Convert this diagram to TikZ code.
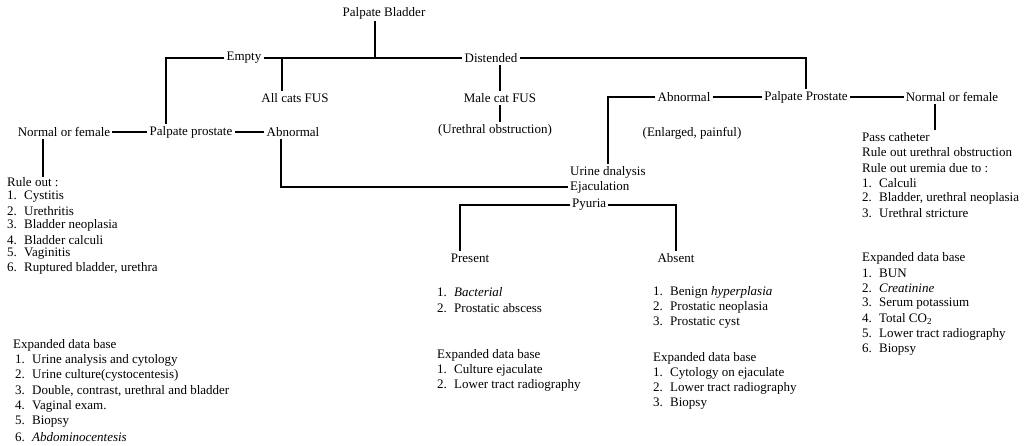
\documentclass[tikz,border=0pt]{standalone}
\usepackage{fontspec}
\setmainfont{Liberation Serif}
\usetikzlibrary{positioning}

\tikzset{
  lbl/.style={draw=none, inner sep=2pt, font=\fontsize{13}{15}\selectfont},
  item/.style={lbl, anchor=west, inner sep=0pt},
  conn/.style={line width=1.3pt},
}
\newcommand{\listnum}[2]{\makebox[17pt][l]{#1}#2}
\def\lsep{15.3}

\begin{document}
\begin{tikzpicture}[x=1pt, y=-1pt]
  \useasboundingbox (0,0) rectangle (1029,446);

  % top rows
  \node[lbl] (bladder) at (384,13) {Palpate Bladder};
  \node[lbl] (empty) at (244,58) {Empty};
  \node[lbl] (dist) at (491,58) {Distended};
  \node[lbl] (allcats) at (295,98) {All cats FUS};
  \node[lbl] (male) at (500,98) {Male cat FUS};
  \node[lbl] (uo) at (495,130) {(Urethral obstruction)};

  \node[lbl] (nfl) at (64,132) {Normal or female};
  \node[lbl] (ppl) at (191,132) {Palpate prostate};
  \node[lbl] (abl) at (293,132) {Abnormal};

  \node[lbl] (abr) at (684,97) {Abnormal};
  \node[lbl] (ppr) at (806,97) {Palpate Prostate};
  \node[lbl] (nfr) at (952,97) {Normal or female};
  \node[lbl] (enl) at (692,133) {(Enlarged, painful)};

  \node[item] (urine) at (570,172) {Urine dnalysis};
  \node[item] (ejac) at (570,187) {Ejaculation};
  \node[item, inner sep=2pt] (pyu) at (570,205) {Pyuria};
  \node[lbl] (present) at (470,258) {Present};
  \node[lbl] (absent) at (676,258) {Absent};

  % left lists
  \node[item] (rulehead) at (7,182) {Rule out :};
  \foreach \t [count=\i] in {Cystitis, Urethritis, Bladder neoplasia, Bladder calculi,
      Vaginitis, {Ruptured bladder, urethra}}{
    \node[item] (rule\i) at (7,182+\i*14.4) {\listnum{\i.}{\t}};
  }
  \node[item] (exlhead) at (13,345) {Expanded data base};
  \foreach \t [count=\i] in {Urine analysis and cytology, Urine culture(cystocentesis),
      {Double, contrast, urethral and bladder}, Vaginal exam., Biopsy,
      \textit{Abdominocentesis}}{
    \node[item] (exl\i) at (15,345+\i*\lsep) {\listnum{\i.}{\t}};
  }

  % middle lists
  \foreach \t [count=\i] in {\textit{Bacterial}, Prostatic abscess}{
    \node[item] (pres\i) at (437,277+\i*\lsep) {\listnum{\i.}{\t}};
  }
  \node[item] (exphead) at (437,355) {Expanded data base};
  \foreach \t [count=\i] in {Culture ejaculate, Lower tract radiography}{
    \node[item] (exp\i) at (437,355+\i*\lsep) {\listnum{\i.}{\t}};
  }
  \foreach \t [count=\i] in {Benign \textit{hyperplasia}, Prostatic neoplasia, Prostatic cyst}{
    \node[item] (abs\i) at (653,277+\i*\lsep) {\listnum{\i.}{\t}};
  }
  \node[item] (exahead) at (653,358) {Expanded data base};
  \foreach \t [count=\i] in {Cytology on ejaculate, Lower tract radiography, Biopsy}{
    \node[item] (exa\i) at (653,358+\i*\lsep) {\listnum{\i.}{\t}};
  }

  % right column
  \node[item] (pass) at (862,137) {Pass catheter};
  \node[item] (rurethral) at (862,137+\lsep) {Rule out urethral obstruction};
  \node[item] (ruremia) at (862,137+2*\lsep) {Rule out uremia due to :};
  \foreach \t [count=\i] in {Calculi, {Bladder, urethral neoplasia}, Urethral stricture}{
    \node[item] (rur\i) at (862,137+2*\lsep+\i*\lsep) {\listnum{\i.}{\t}};
  }
  \node[item] (exrhead) at (862,258) {Expanded data base};
  \foreach \t [count=\i] in {BUN, \textit{Creatinine}, Serum potassium, Total CO\textsubscript{2},
      Lower tract radiography, Biopsy}{
    \node[item] (exr\i) at (862,258+\i*\lsep) {\listnum{\i.}{\t}};
  }

  % connectors
  \draw[conn] ([xshift=-9pt]bladder.south) -- ([xshift=-9pt]bladder.south |- empty.east);
  \draw[conn] ([xshift=-25pt]ppl.north) |- (empty.west);
  \draw[conn] (empty.east) -- (dist.west);
  \draw[conn] ([xshift=-13pt]allcats.north) -- ([xshift=-13pt]allcats.north |- empty.east);
  \draw[conn] (dist.east) -| (ppr.north);
  \draw[conn] (male.north) -- (male.north |- dist.south);
  \draw[conn] (male.south) -- (male.south |- uo.north);

  \draw[conn] (nfl.east) -- (ppl.west);
  \draw[conn] (ppl.east) -- (abl.west);
  \draw[conn] ([xshift=-21pt]nfl.south) -- ([xshift=-21pt]nfl.south |- rulehead.north);
  \draw[conn] ([xshift=-12pt]abl.south) |- ([xshift=-2pt]ejac.west);

  \draw[conn] (abr.east) -- (ppr.west);
  \draw[conn] (ppr.east) -- (nfr.west);
  \draw[conn] (abr.west) -| ([yshift=2pt]urine.north);
  \draw[conn] ([xshift=-17pt]nfr.south) -- ([xshift=-17pt,yshift=2pt]nfr.south |- pass.north);

  \draw[conn] (pyu.west) -| ([xshift=-10pt]present.north);
  \draw[conn] (pyu.east) -| (absent.north);
\end{tikzpicture}
\end{document}
